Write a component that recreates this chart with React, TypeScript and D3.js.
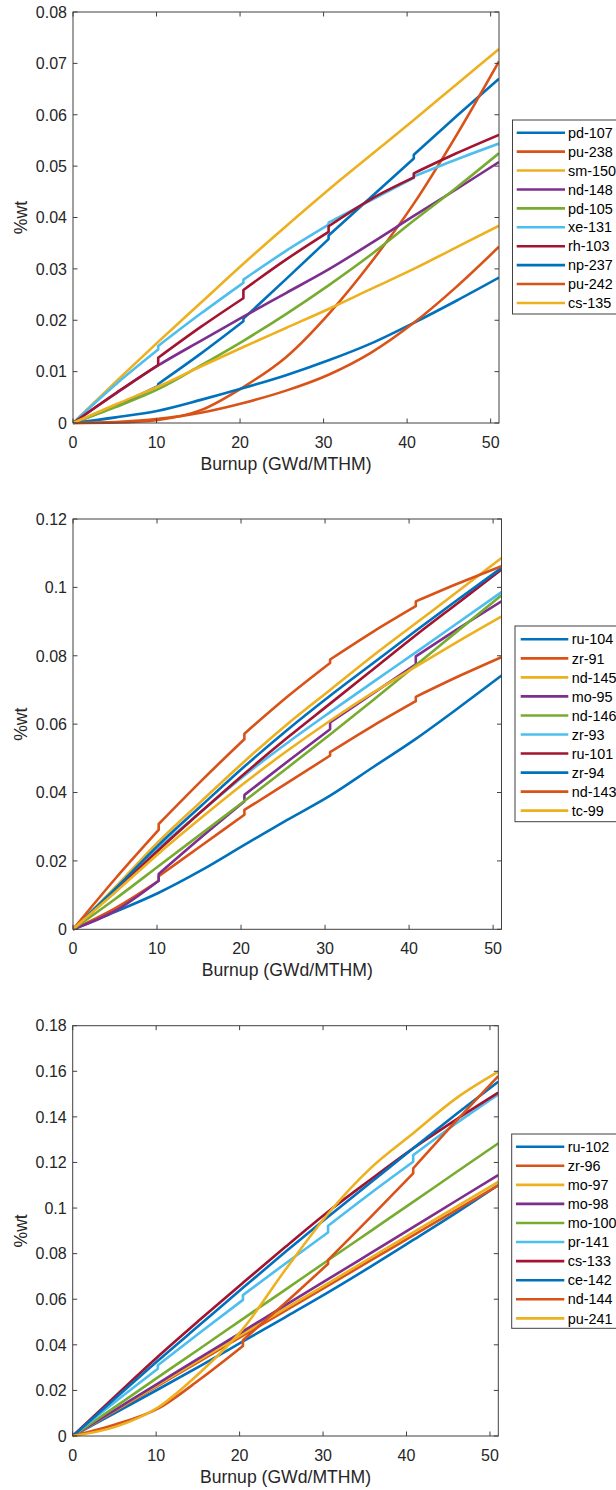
import React from 'react';
import * as d3 from 'd3';

// Burnup grid: 5 irradiation cycles, 3 points each (start, middle, end); duplicated x marks a jump between cycles
const BURNUP = [0, 5.1, 10.2, 10.2, 15.3, 20.4, 20.4, 25.5, 30.6, 30.6, 35.7, 40.8, 40.8, 45.9, 51];
const COLORS = ['#0072BD', '#D95319', '#EDB120', '#7E2F8E', '#77AC30', '#4DBEEE', '#A2142F'];
const X_TICKS = [0, 10, 20, 30, 40, 50];
const X_LABEL = 'Burnup (GWd/MTHM)';
const Y_LABEL = '%wt';

// Panel 1
const P1_NAMES = ['pd-107', 'pu-238', 'sm-150', 'nd-148', 'pd-105', 'xe-131', 'rh-103', 'np-237', 'pu-242', 'cs-135'];
const P1_PD107 = [0, 0.0033, 0.0072, 0.0076, 0.0135, 0.0198, 0.0203, 0.0280, 0.0358, 0.0365, 0.0440, 0.0515, 0.0522, 0.0597, 0.0670];
const P1_PU238 = [0, 0.0001, 0.0006, 0.0006, 0.0025, 0.0070, 0.0070, 0.0128, 0.0212, 0.0212, 0.0313, 0.0427, 0.0427, 0.0560, 0.0704];
const P1_SM150 = [0, 0.0080, 0.0158, 0.0158, 0.0234, 0.0310, 0.0310, 0.0383, 0.0454, 0.0454, 0.0522, 0.0590, 0.0590, 0.0659, 0.0728];
const P1_ND148 = [0, 0.0057, 0.0112, 0.0112, 0.0160, 0.0207, 0.0207, 0.0253, 0.0299, 0.0299, 0.0350, 0.0403, 0.0403, 0.0455, 0.0508];
const P1_PD105 = [0, 0.0031, 0.0066, 0.0066, 0.0112, 0.0160, 0.0160, 0.0212, 0.0268, 0.0268, 0.0328, 0.0394, 0.0394, 0.0458, 0.0525];
const P1_XE131 = [0, 0.0075, 0.0143, 0.0150, 0.0213, 0.0273, 0.0279, 0.0335, 0.0386, 0.0390, 0.0434, 0.0477, 0.0480, 0.0513, 0.0544];
const P1_RH103 = [0, 0.0058, 0.0113, 0.0127, 0.0187, 0.0243, 0.0259, 0.0318, 0.0372, 0.0383, 0.0436, 0.0478, 0.0486, 0.0525, 0.0561];
const P1_NP237 = [0, 0.0011, 0.0024, 0.0024, 0.0045, 0.0068, 0.0068, 0.0093, 0.0122, 0.0122, 0.0155, 0.0195, 0.0195, 0.0238, 0.0283];
const P1_PU242 = [0, 0.0002, 0.0008, 0.0008, 0.0020, 0.0039, 0.0039, 0.0063, 0.0094, 0.0094, 0.0137, 0.0195, 0.0195, 0.0265, 0.0343];
const P1_CS135 = [0, 0.0036, 0.0071, 0.0071, 0.0110, 0.0148, 0.0148, 0.0185, 0.0222, 0.0222, 0.0261, 0.0300, 0.0300, 0.0342, 0.0384];
const P1_Y_TICKS = [0, 0.01, 0.02, 0.03, 0.04, 0.05, 0.06, 0.07, 0.08];

// Panel 2
const P2_NAMES = ['ru-104', 'zr-91', 'nd-145', 'mo-95', 'nd-146', 'zr-93', 'ru-101', 'zr-94', 'nd-143', 'tc-99'];
const P2_RU104 = [0, 0.0052, 0.0107, 0.0107, 0.0173, 0.0247, 0.0247, 0.0320, 0.0391, 0.0391, 0.0474, 0.0557, 0.0557, 0.0648, 0.0742];
const P2_ZR91 = [0, 0.0063, 0.0142, 0.0155, 0.0245, 0.0335, 0.0349, 0.0428, 0.0508, 0.0518, 0.0595, 0.0667, 0.0680, 0.0740, 0.0796];
const P2_ND145 = [0, 0.0125, 0.0257, 0.0257, 0.0375, 0.0491, 0.0491, 0.0600, 0.0700, 0.0700, 0.0800, 0.0895, 0.0895, 0.0990, 0.1086];
const P2_MO95 = [0, 0.0055, 0.0142, 0.0162, 0.0270, 0.0374, 0.0393, 0.0490, 0.0585, 0.0605, 0.0690, 0.0775, 0.0798, 0.0880, 0.0959];
const P2_ND146 = [0, 0.0090, 0.0185, 0.0185, 0.0280, 0.0375, 0.0375, 0.0472, 0.0570, 0.0570, 0.0670, 0.0772, 0.0772, 0.0875, 0.0977];
const P2_ZR93 = [0, 0.0118, 0.0238, 0.0238, 0.0345, 0.0450, 0.0450, 0.0545, 0.0635, 0.0635, 0.0723, 0.0810, 0.0810, 0.0898, 0.0986];
const P2_RU101 = [0, 0.0114, 0.0232, 0.0232, 0.0345, 0.0455, 0.0455, 0.0560, 0.0660, 0.0660, 0.0760, 0.0860, 0.0860, 0.0956, 0.1052];
const P2_ZR94 = [0, 0.0120, 0.0247, 0.0247, 0.0362, 0.0476, 0.0476, 0.0583, 0.0683, 0.0683, 0.0778, 0.0873, 0.0873, 0.0966, 0.1057];
const P2_ND143 = [0, 0.0150, 0.0291, 0.0308, 0.0435, 0.0556, 0.0572, 0.0680, 0.0779, 0.0789, 0.0870, 0.0945, 0.0959, 0.1012, 0.1062];
const P2_TC99 = [0, 0.0110, 0.0222, 0.0222, 0.0327, 0.0428, 0.0428, 0.0522, 0.0610, 0.0610, 0.0692, 0.0768, 0.0768, 0.0843, 0.0915];
const P2_Y_TICKS = [0, 0.02, 0.04, 0.06, 0.08, 0.1, 0.12];

// Panel 3
const P3_NAMES = ['ru-102', 'zr-96', 'mo-97', 'mo-98', 'mo-100', 'pr-141', 'cs-133', 'ce-142', 'nd-144', 'pu-241'];
const P3_RU102 = [0, 0.0102, 0.0204, 0.0204, 0.0308, 0.0415, 0.0415, 0.0522, 0.0630, 0.0630, 0.0743, 0.0860, 0.0860, 0.0978, 0.1101];
const P3_ZR96 = [0, 0.0110, 0.0220, 0.0220, 0.0330, 0.0440, 0.0440, 0.0550, 0.0660, 0.0660, 0.0770, 0.0880, 0.0880, 0.0990, 0.1100];
const P3_MO97 = [0, 0.0112, 0.0224, 0.0224, 0.0336, 0.0448, 0.0448, 0.0560, 0.0670, 0.0670, 0.0782, 0.0893, 0.0893, 0.1004, 0.1115];
const P3_MO98 = [0, 0.0115, 0.0230, 0.0230, 0.0345, 0.0459, 0.0459, 0.0574, 0.0688, 0.0688, 0.0802, 0.0916, 0.0916, 0.1031, 0.1145];
const P3_MO100 = [0, 0.0128, 0.0257, 0.0257, 0.0385, 0.0514, 0.0514, 0.0642, 0.0771, 0.0771, 0.0899, 0.1027, 0.1027, 0.1156, 0.1284];
const P3_PR141 = [0, 0.0150, 0.0295, 0.0310, 0.0455, 0.0597, 0.0618, 0.0757, 0.0893, 0.0922, 0.1065, 0.1203, 0.1232, 0.1370, 0.1499];
const P3_CS133 = [0, 0.0175, 0.0348, 0.0348, 0.0512, 0.0672, 0.0672, 0.0830, 0.0984, 0.0984, 0.1125, 0.1262, 0.1262, 0.1387, 0.1506];
const P3_CE142 = [0, 0.0165, 0.0330, 0.0330, 0.0490, 0.0650, 0.0650, 0.0808, 0.0962, 0.0962, 0.1112, 0.1262, 0.1262, 0.1410, 0.1554];
const P3_ND144 = [0, 0.0050, 0.0120, 0.0120, 0.0250, 0.0395, 0.0420, 0.0585, 0.0755, 0.0772, 0.0960, 0.1152, 0.1174, 0.1380, 0.1579];
const P3_PU241 = [0, 0.0040, 0.0125, 0.0125, 0.0280, 0.0470, 0.0470, 0.0730, 0.0975, 0.0975, 0.1175, 0.1328, 0.1328, 0.1480, 0.1598];
const P3_Y_TICKS = [0, 0.02, 0.04, 0.06, 0.08, 0.1, 0.12, 0.14, 0.16, 0.18];

const FONT = '"Liberation Sans", Arial, Helvetica, sans-serif';
const TEXT = '#262626';
const AXIS = '#404040';

type PanelProps = {
  id: string;
  names: string[];
  values: number[][];
  yTicks: number[];
  left: number;
  right: number;
  top: number;
  bottom: number;
  legLeft: number;
  legTop: number;
  legBottom: number;
  legRow0: number;
  legStep: number;
  legLine0: number;
  legLine1: number;
  legText: number;
};

// Split a series into continuous runs (breaking only at real jumps) and join them with vertical steps
function seriesPath(vals: number[], x: d3.ScaleLinear<number, number>, y: d3.ScaleLinear<number, number>) {
  const line = d3
    .line<[number, number]>()
    .x((d) => x(d[0]))
    .y((d) => y(d[1]))
    .curve(d3.curveMonotoneX);
  const runs: [number, number][][] = [];
  let cur: [number, number][] = [[BURNUP[0], vals[0]]];
  for (let i = 1; i < BURNUP.length; i++) {
    if (BURNUP[i] === BURNUP[i - 1]) {
      if (vals[i] !== vals[i - 1]) {
        runs.push(cur);
        cur = [[BURNUP[i], vals[i]]];
      }
    } else {
      cur.push([BURNUP[i], vals[i]]);
    }
  }
  runs.push(cur);
  return runs
    .map((r, k) => {
      const s = line(r) || '';
      return k > 0 ? 'L' + s.slice(1) : s;
    })
    .join('');
}

function Panel(p: PanelProps) {
  const yMax = p.yTicks[p.yTicks.length - 1];
  const x = d3.scaleLinear().domain([0, 51]).range([p.left, p.right]);
  const y = d3.scaleLinear().domain([0, yMax]).range([p.bottom, p.top]);
  const tl = 4.5;
  const cx = (p.left + p.right) / 2;
  const cy = (p.top + p.bottom) / 2;
  return (
    <g>
      <defs>
        <clipPath id={p.id}>
          <rect x={p.left} y={p.top - 2} width={p.right - p.left} height={p.bottom - p.top + 4} />
        </clipPath>
      </defs>
      <g clipPath={`url(#${p.id})`}>
        {p.values.map((v, i) => (
          <path
            key={i}
            d={seriesPath(v, x, y)}
            fill="none"
            stroke={COLORS[i % COLORS.length]}
            strokeWidth={2.6}
            strokeLinejoin="round"
          />
        ))}
      </g>
      <rect x={p.left} y={p.top} width={p.right - p.left} height={p.bottom - p.top} fill="none" stroke={AXIS} strokeWidth={1} />
      {X_TICKS.map((t) => (
        <g key={'x' + t}>
          <line x1={x(t)} x2={x(t)} y1={p.bottom} y2={p.bottom - tl} stroke={AXIS} />
          <line x1={x(t)} x2={x(t)} y1={p.top} y2={p.top + tl} stroke={AXIS} />
          <text x={x(t)} y={p.bottom + 24.5} textAnchor="middle" fontSize={16} fill={TEXT} fontFamily={FONT}>
            {t}
          </text>
        </g>
      ))}
      {p.yTicks.map((t) => (
        <g key={'y' + t}>
          <line x1={p.left} x2={p.left + tl} y1={y(t)} y2={y(t)} stroke={AXIS} />
          <line x1={p.right} x2={p.right - tl} y1={y(t)} y2={y(t)} stroke={AXIS} />
          <text x={p.left - 6} y={y(t)} dy="0.36em" textAnchor="end" fontSize={16} fill={TEXT} fontFamily={FONT}>
            {String(+t.toFixed(2))}
          </text>
        </g>
      ))}
      <text x={cx} y={p.bottom + 47} textAnchor="middle" fontSize={17.6} fill={TEXT} fontFamily={FONT}>
        {X_LABEL}
      </text>
      <text
        transform={`translate(27,${cy}) rotate(-90)`}
        textAnchor="middle"
        fontSize={17.6}
        fill={TEXT}
        fontFamily={FONT}
      >
        {Y_LABEL}
      </text>
      <rect x={p.legLeft} y={p.legTop} width={200} height={p.legBottom - p.legTop} fill="#fff" stroke={AXIS} strokeWidth={1} />
      {p.names.map((n, i) => {
        const yy = p.legRow0 + i * p.legStep;
        return (
          <g key={n}>
            <line x1={p.legLine0} x2={p.legLine1} y1={yy} y2={yy} stroke={COLORS[i % COLORS.length]} strokeWidth={2.6} />
            <text x={p.legText} y={yy} dy="0.36em" fontSize={14.4} fill="#000" fontFamily={FONT}>
              {n}
            </text>
          </g>
        );
      })}
    </g>
  );
}

export default function App() {
  return (
    <svg
      width={616}
      height={1490}
      style={{ position: 'absolute', left: 0, top: 0, background: '#fff' }}
      xmlns="http://www.w3.org/2000/svg"
    >
      <rect x={0} y={0} width={616} height={1490} fill="#fff" />
      <Panel
        id="c1"
        names={P1_NAMES}
        values={[P1_PD107, P1_PU238, P1_SM150, P1_ND148, P1_PD105, P1_XE131, P1_RH103, P1_NP237, P1_PU242, P1_CS135]}
        yTicks={P1_Y_TICKS}
        left={73}
        right={499}
        top={12}
        bottom={423}
        legLeft={512.5}
        legTop={120}
        legBottom={314}
        legRow0={132.7}
        legStep={18.92}
        legLine0={516.7}
        legLine1={565}
        legText={568}
      />
      <Panel
        id="c2"
        names={P2_NAMES}
        values={[P2_RU104, P2_ZR91, P2_ND145, P2_MO95, P2_ND146, P2_ZR93, P2_RU101, P2_ZR94, P2_ND143, P2_TC99]}
        yTicks={P2_Y_TICKS}
        left={73}
        right={501.5}
        top={519}
        bottom={929.3}
        legLeft={515}
        legTop={626}
        legBottom={821.7}
        legRow0={639.3}
        legStep={19.04}
        legLine0={520.7}
        legLine1={568.3}
        legText={571.7}
      />
      <Panel
        id="c3"
        names={P3_NAMES}
        values={[P3_RU102, P3_ZR96, P3_MO97, P3_MO98, P3_MO100, P3_PR141, P3_CS133, P3_CE142, P3_ND144, P3_PU241]}
        yTicks={P3_Y_TICKS}
        left={72.7}
        right={498.3}
        top={1025.7}
        bottom={1436}
        legLeft={511.7}
        legTop={1134}
        legBottom={1328.3}
        legRow0={1146.7}
        legStep={19.07}
        legLine0={516}
        legLine1={564.3}
        legText={567.7}
      />
    </svg>
  );
}
